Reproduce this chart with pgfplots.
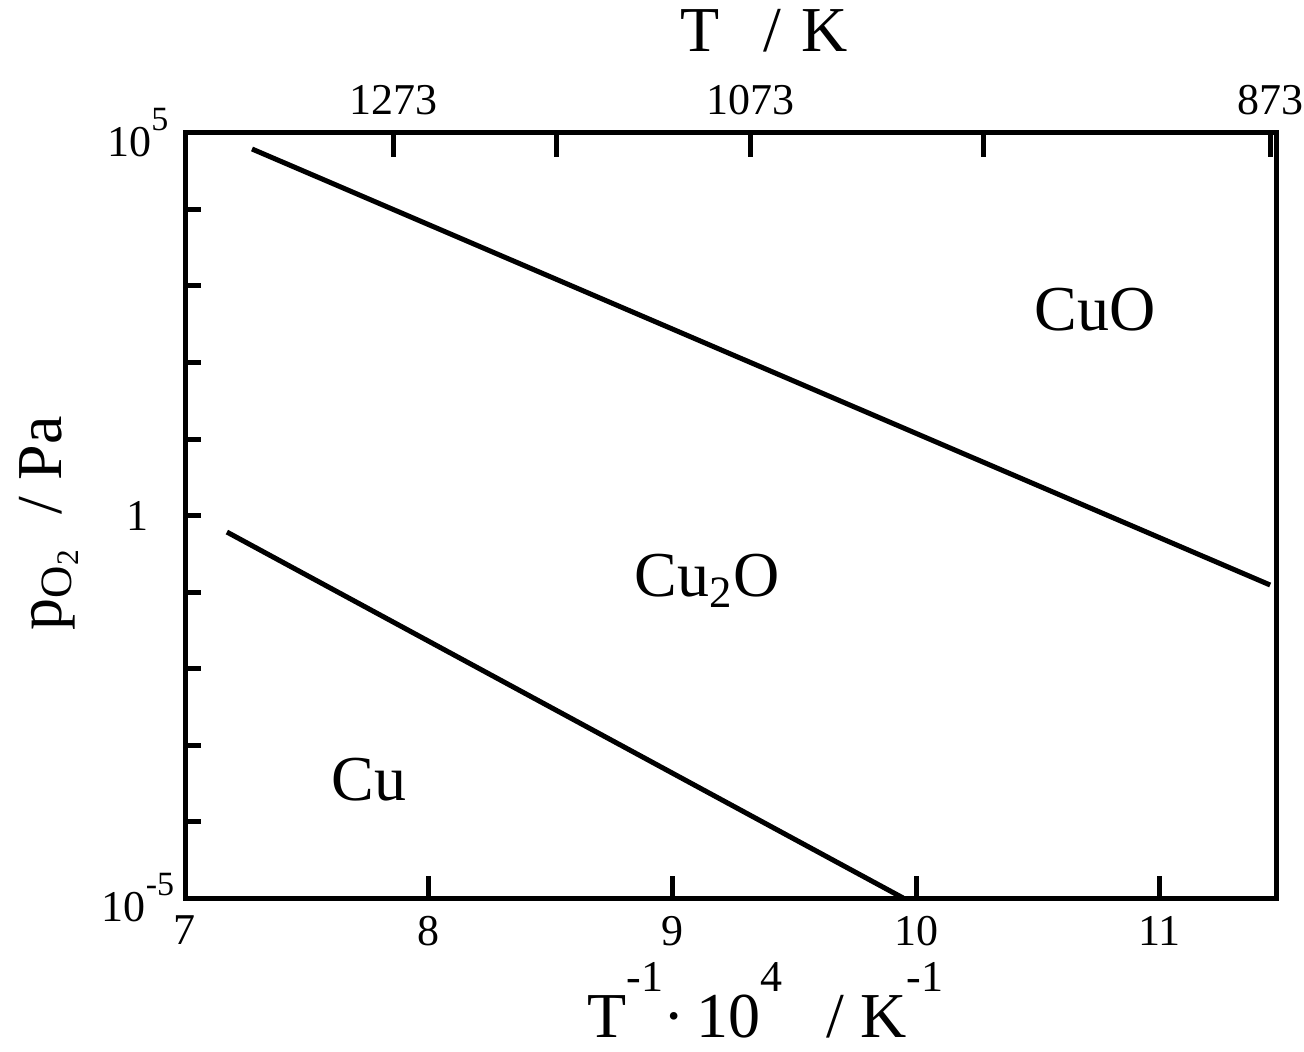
\documentclass[border=0pt]{standalone}
\usepackage{fontspec}
\setmainfont{Liberation Serif}
\usepackage{pgfplots}
\pgfplotsset{compat=1.18}

% superscripts for the tick labels and the axis labels
\newcommand\tsup[2]{#1\raisebox{6.5pt}{\fontsize{8.5}{9}\selectfont #2}}
\newcommand\lsup[1]{\raisebox{11.5pt}{\fontsize{11}{12}\selectfont #1}}

\begin{document}
\begin{tikzpicture}
% lower axis: T^-1 * 10^4 against log p(O2)
\begin{axis}[
  name=ax,
  scale only axis,
  width=272.75pt, height=191.25pt,
  xmin=7, xmax=11.477,
  ymode=log, ymin=1e-5, ymax=1e5,
  xtick={7,8,9,10,11},
  xticklabels={7,8,9,10,11},
  ytick={1e-5,1e-4,1e-3,1e-2,1e-1,1,1e1,1e2,1e3,1e4,1e5},
  yticklabels={\tsup{10}{-5},,,,,1,,,,,\tsup{10}{5}},
  yminorticks=false, xminorticks=false,
  xtick pos=bottom, ytick pos=left,
  tick align=inside,
  axis line style={line width=1.25pt},
  tick style={line width=1.25pt, black},
  xtick style={/pgfplots/major tick length=5.5pt},
  ytick style={/pgfplots/major tick length=4pt},
  ticklabel style={font=\fontsize{11}{13}\selectfont},
  xticklabel style={yshift=-1pt},
  yticklabel style={anchor=center, xshift=-11.75pt},
  label style={font=\fontsize{16}{19}\selectfont},
  xlabel={T\lsup{-1}·\hspace{3pt}10\lsup{4}\hspace{11pt}/ K\lsup{-1}},
  xlabel style={at={(axis description cs:0.532,-0.182)}, anchor=base},
  ylabel={p\textsubscript{O\textsubscript{2}}\enspace/ Pa},
  ylabel style={at={(axis description cs:-0.125,0.49)}, anchor=center},
]
% Cu2O / CuO boundary
\addplot[line width=1.25pt] coordinates {(7.275,6.18e4) (11.453,0.1234)};
% Cu / Cu2O boundary
\addplot[line width=1.25pt] coordinates {(7.172,0.608) (9.947,1e-5)};
\node[font=\fontsize{16}{19}\selectfont] at (axis cs:10.735,485) {CuO};
\node[font=\fontsize{16}{19}\selectfont] at (axis cs:9.142,0.14) {Cu\textsubscript{2}O};
\node[font=\fontsize{16}{19}\selectfont] at (axis cs:7.755,3.48e-4) {Cu};
\end{axis}
% upper axis: temperature in K
\begin{axis}[
  at={(ax.south west)}, anchor=south west,
  scale only axis,
  width=272.75pt, height=191.25pt,
  xmin=7, xmax=11.477, ymin=0, ymax=1,
  axis x line*=top, axis y line=none,
  axis line style={-, line width=1.25pt},
  xtick={7.8555,8.5251,9.3197,10.2775,11.4548},
  xticklabels={1273,,1073,,873},
  xminorticks=false,
  tick align=inside,
  tick style={line width=1.25pt, black},
  major tick length=6pt,
  ticklabel style={font=\fontsize{11}{13}\selectfont},
  xticklabel style={yshift=1pt},
  label style={font=\fontsize{16}{19}\selectfont},
  xlabel={T\hspace{11pt}/\hspace{5pt}K},
  xlabel style={at={(axis description cs:0.531,1.106)}, anchor=base},
]
\addplot[draw=none] coordinates {(8,0.5)};
\end{axis}
\pgfresetboundingbox
\path ([xshift=-46.25pt, yshift=-38.25pt]ax.south west) rectangle ([xshift=7pt, yshift=33.25pt]ax.north east);
\end{tikzpicture}
\end{document}
